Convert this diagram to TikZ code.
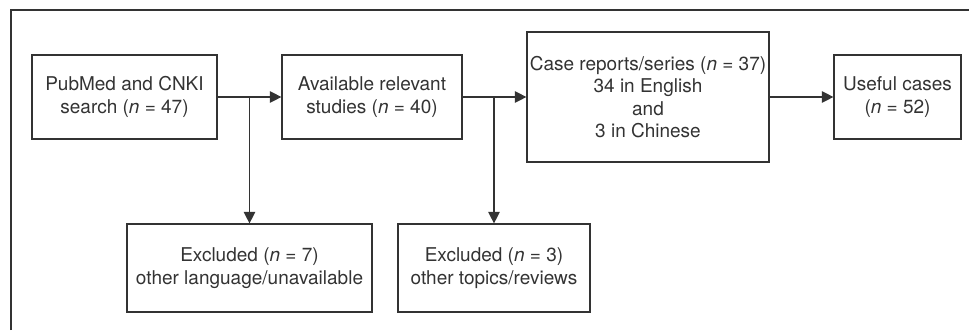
\documentclass[tikz,border=0pt]{standalone}
\usepackage{fontspec}
\setmainfont{TeX Gyre Heros}
\usetikzlibrary{arrows.meta}
\definecolor{ink}{HTML}{333333}
\tikzset{
  box/.style={draw=ink, line width=1.2pt, align=center, text=ink, inner sep=0pt,
    font=\fontsize{19}{22.5}\selectfont},
  arr/.style={draw=ink, line width=1.2pt, -{Triangle[length=11.5pt,width=11.5pt]}},
}

\begin{document}
\begin{tikzpicture}[x=1pt,y=-1pt]
        \useasboundingbox (0,0) rectangle (969,330);
        \draw [ink, line width=2pt] (11,330) -- (11,10) -- (969,10);
        % main row
        \node [box, minimum width=185, minimum height=84] (search) at (124.5,97) {PubMed and CNKI\\search (\textit{n} = 47)};
        \node [box, minimum width=180, minimum height=84] (studies) at (372,97) {Available relevant\\studies (\textit{n} = 40)};
        \node [box, minimum width=242, minimum height=130] (reports) at (648,97) {Case reports/series (\textit{n} = 37)\\34 in English\\and\\3 in Chinese};
        \node [box, minimum width=127, minimum height=84] (useful) at (897.5,97) {Useful cases\\(\textit{n} = 52)};
        % exclusions
        \node [box, minimum width=245, minimum height=88] (excl1) at (249.5,268) {Excluded (\textit{n} = 7)\\other language/unavailable};
        \node [box, minimum width=192, minimum height=88] (excl2) at (494,268) {Excluded (\textit{n} = 3)\\other topics/reviews};
        \coordinate (split1) at (search.east -| excl1.north);
        \coordinate (split2) at (studies.east -| excl2.north);
        \draw [arr] (search) -- (studies);
        \draw [arr] (studies) -- (reports);
        \draw [arr] (reports) -- (useful);
        \draw [arr] (split1) -- (excl1);
        \draw [arr] (split2) -- (excl2);
\end{tikzpicture}
\end{document}
